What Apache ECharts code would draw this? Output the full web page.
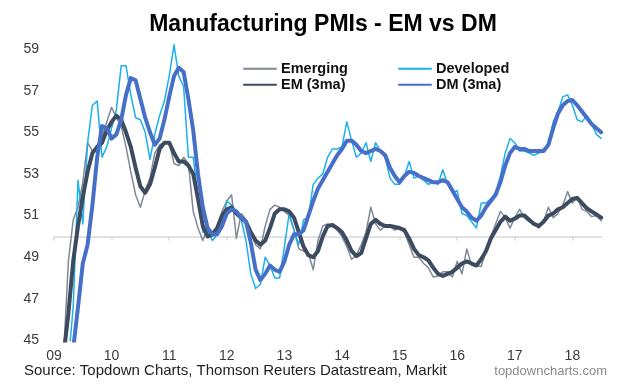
<!DOCTYPE html>
<html><head><meta charset="utf-8">
<script src="https://cdn.jsdelivr.net/npm/echarts@6/dist/echarts.min.js"></script>
<style>html,body{margin:0;padding:0;background:#fff}#c{width:620px;height:391px}</style>
</head><body><div id="c"></div>
<script>
// Year tick labels (one per January, Jan 2009 .. Jan 2018)
const yearLabels = ['09','10','11','12','13','14','15','16','17','18'];
// Monthly categories Jan 2009 .. Jul 2018
const months = [];
for (let y = 2009; y <= 2018; y++) for (let m = 1; m <= 12; m++) { if (y === 2018 && m > 7) break; months.push(y + '-' + String(m).padStart(2, '0')); }

const emerging = [41.5,42.8,44.3,48.8,50.8,51.4,52.6,54.5,54.1,54.3,54.8,55.5,56.2,55.7,55.3,54.3,53.1,52.0,51.4,52.2,
52.8,54.0,54.4,54.5,54.5,53.5,53.4,53.8,53.5,51.2,50.4,49.8,50.4,50.1,50.3,51.2,51.7,52.0,49.9,51.1,
50.8,50.2,49.6,49.4,50.5,51.3,51.5,51.4,51.2,51.0,50.3,49.4,49.3,49.2,48.4,49.8,50.5,50.6,50.5,50.3,
50.0,49.5,48.9,49.1,49.6,50.2,51.4,50.6,50.3,50.5,50.5,50.3,50.4,50.2,49.6,49.0,49.0,48.7,48.5,48.05,
48.1,48.3,48.3,48.05,48.8,48.2,49.4,48.6,48.6,48.55,49.3,50.0,50.6,51.2,50.9,50.4,50.9,51.3,50.9,50.7,
50.6,50.4,50.7,51.4,50.9,51.1,51.5,52.15,51.6,51.9,51.3,51.2,50.95,51.0,50.75];

const developed = [41.0,42.0,43.0,44.0,46.6,52.7,50.6,54.5,56.3,56.5,53.8,54.3,55.2,56.1,58.2,58.2,56.8,55.7,55.6,55.0,
53.7,54.9,55.8,56.5,57.7,59.2,57.7,57.2,53.8,53.8,51.9,50.2,50.3,49.8,50.1,50.5,51.7,51.5,51.1,50.8,
49.8,48.2,47.5,47.7,49.0,48.6,48.0,48.0,49.5,51.1,50.3,49.6,50.8,50.9,52.5,52.8,53.0,53.8,54.2,54.2,
54.3,55.5,54.6,53.8,54.0,54.5,53.6,54.5,54.1,53.8,52.8,52.5,52.5,52.9,53.6,52.8,52.9,52.7,52.5,52.6,
52.5,53.2,52.5,52.1,52.2,51.1,51.0,50.7,50.4,51.6,51.6,51.8,52.1,52.9,54.0,54.7,54.5,54.1,54.1,54.0,
53.9,54.0,54.2,54.4,55.5,56.0,56.7,56.8,56.3,55.6,55.5,55.8,55.4,54.9,54.7];

const em3ma = [42.5,43.5,44.3,46.3,48.8,50.5,51.9,53.1,54.0,54.3,54.5,55.1,55.5,55.8,55.6,55.0,54.3,53.3,52.4,52.1,
52.5,53.3,54.2,54.5,54.5,54.0,53.6,53.6,53.4,53.0,51.8,50.5,50.0,50.1,50.4,51.0,51.3,51.4,51.1,50.9,
50.7,50.2,49.8,49.6,49.8,50.4,51.1,51.3,51.3,51.2,50.9,50.2,49.5,49.1,49.0,49.3,50.0,50.5,50.55,50.4,
50.2,49.8,49.3,49.05,49.2,49.9,50.6,50.8,50.6,50.5,50.5,50.45,50.4,50.3,49.9,49.4,49.1,49.0,48.85,48.5,
48.2,48.1,48.2,48.3,48.5,48.7,48.8,48.7,48.6,48.9,49.3,49.9,50.3,50.7,50.95,50.75,50.85,51.0,51.0,50.8,
50.6,50.5,50.7,51.0,51.1,51.3,51.4,51.6,51.8,51.85,51.6,51.35,51.2,51.05,50.9];

const dm3ma = [42.0,42.5,43.0,43.8,44.6,46.6,48.7,49.6,51.5,53.8,55.3,55.2,54.7,54.9,55.6,56.8,57.6,57.5,56.6,55.7,
55.0,54.4,54.7,55.6,56.7,57.7,58.1,57.9,56.6,55.1,53.0,51.4,50.4,50.1,50.1,50.5,51.1,51.3,51.2,50.9,
50.7,49.7,48.4,47.9,48.2,48.6,48.4,48.3,48.8,49.6,50.1,50.1,50.3,51.0,51.7,52.3,52.7,53.1,53.5,53.9,
54.2,54.6,54.6,54.4,54.1,54.0,54.1,54.2,54.1,53.9,53.3,52.9,52.6,52.9,53.1,53.05,52.9,52.8,52.7,52.6,
52.6,52.7,52.6,52.2,51.8,51.4,51.2,50.9,50.75,51.0,51.4,51.7,52.0,52.6,53.4,54.0,54.3,54.2,54.2,54.1,
54.1,54.1,54.1,54.4,55.2,55.9,56.3,56.5,56.55,56.3,56.0,55.7,55.4,55.2,55.0];

const FONT = '"Liberation Sans", Arial, sans-serif';
const chart = echarts.init(document.getElementById('c'), null, {renderer: 'canvas'});

const lineSeries = (name, data, color, width, z) => ({
  name, type: 'line', data, symbol: 'none', showSymbol: false, z,
  xAxisIndex: 0, yAxisIndex: 0,
  lineStyle: {color, width, join: 'round', cap: 'round'},
  itemStyle: {color},
  emphasis: {disabled: true}, animation: false
});

const legendBase = {orient: 'vertical', itemWidth: 32, itemHeight: 14, itemGap: 1, padding: 0,
  itemStyle: {opacity: 0, borderWidth: 0},
  textStyle: {color: '#111', fontSize: 14.5, fontWeight: 'bold', fontFamily: FONT}};

chart.setOption({
  animation: false,
  backgroundColor: '#ffffff',
  grid: [
    {left: 54, right: 18.8, top: 28.2, bottom: 50.5},
    {left: 54, right: 18.8, top: 200, height: 36.4}
  ],
  xAxis: [
    {type: 'category', gridIndex: 0, data: months, boundaryGap: false,
     axisLine: {show: false}, axisTick: {show: false}, splitLine: {show: false},
     axisLabel: {interval: (i) => i % 12 === 0, formatter: (v, i) => yearLabels[i / 12] || '',
       color: '#3a3a3a', fontSize: 14, fontFamily: FONT, margin: 9}},
    {type: 'category', gridIndex: 1, data: months, boundaryGap: false, position: 'bottom',
     axisLine: {show: true, lineStyle: {color: '#d9d9d9', width: 1.5}},
     axisTick: {show: true, interval: (i) => i % 12 === 0, length: 4, lineStyle: {color: '#d9d9d9', width: 1.5}},
     axisLabel: {show: false}, splitLine: {show: false}}
  ],
  yAxis: [
    {type: 'value', gridIndex: 0, min: 45, max: 60, interval: 2,
     axisLine: {show: false}, axisTick: {show: false}, splitLine: {show: false},
     axisLabel: {showMaxLabel: false, color: '#3a3a3a', fontSize: 14, fontFamily: FONT, margin: 15}},
    {type: 'value', gridIndex: 1, min: 0, max: 1, show: false}
  ],
  legend: [
    Object.assign({left: 243, top: 61.3, data: ['Emerging', 'EM (3ma)']}, legendBase),
    Object.assign({left: 398, top: 61.3, data: ['Developed', 'DM (3ma)']}, legendBase)
  ],
  graphic: [
    {type: 'text', x: 323, y: 24.5, style: {text: 'Manufacturing PMIs - EM vs DM', fill: '#000',
      font: 'bold 23px ' + FONT, textAlign: 'center', textVerticalAlign: 'middle'}},
    {type: 'text', x: 24, y: 371, style: {text: 'Source: Topdown Charts, Thomson Reuters Datastream, Markit', fill: '#222',
      font: '15px ' + FONT, textAlign: 'left', textVerticalAlign: 'middle'}},
    {type: 'text', x: 607, y: 371, style: {text: 'topdowncharts.com', fill: '#8a8a8a',
      font: '13px ' + FONT, textAlign: 'right', textVerticalAlign: 'middle'}}
  ],
  series: [
    lineSeries('Emerging', emerging, '#7f8894', 1.5, 2),
    lineSeries('Developed', developed, '#1cb0ec', 1.5, 3),
    lineSeries('EM (3ma)', em3ma, '#3c4b5f', 4, 4),
    lineSeries('DM (3ma)', dm3ma, '#4670c8', 4, 5)
  ]
});
</script>
</body></html>
